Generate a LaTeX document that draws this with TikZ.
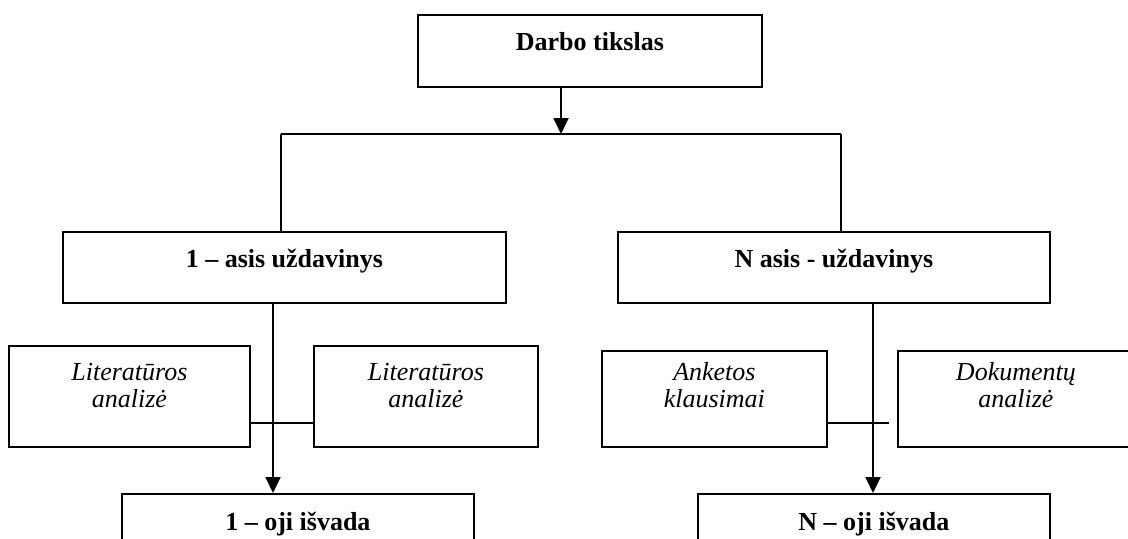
\documentclass[tikz,border=0pt]{standalone}
\usepackage{fontspec}
\setmainfont{Liberation Serif}
\usetikzlibrary{arrows.meta}
\begin{document}
\begin{tikzpicture}[x=0.5pt,y=-0.5pt,
  box/.style={draw, line width=0.9pt, inner sep=0pt, anchor=north west},
  bigbox/.style={box, font=\fontsize{13}{13.5}\selectfont\bfseries},
  smallbox/.style={box, font=\fontsize{13}{13.5}\selectfont\itshape, align=center},
  conn/.style={line width=0.9pt},
  arr/.style={conn, -{Triangle[length=8pt,width=7.5pt]}}]
\useasboundingbox (0,0) rectangle (1128,538);
\clip (0,0) rectangle (1128,538);
% boxes
\node[bigbox, minimum width=172pt, text height=18pt, text depth=18pt] (goal) at (417,14) {Darbo tikslas};
\node[bigbox, minimum width=221.5pt, text height=18pt, text depth=17.5pt] (t1) at (62,231) {1 – asis uždavinys};
\node[bigbox, minimum width=216pt, text height=18pt, text depth=17.5pt] (tN) at (617,231) {N asis - uždavinys};
\node[smallbox, text width=120.5pt, text height=17.5pt, text depth=33pt] (l1) at (8,345) {Literatūros\\analizė};
\node[smallbox, text width=112pt, text height=17.5pt, text depth=33pt] (l2) at (313,345) {Literatūros\\analizė};
\node[smallbox, text width=112.5pt, text height=15pt, text depth=33pt] (r1) at (601,350) {Anketos\\klausimai};
\node[smallbox, text width=118pt, text height=15pt, text depth=33pt] (r2) at (897,350) {Dokumentų\\analizė};
\node[bigbox, minimum width=176pt, text height=18.5pt, text depth=20pt] (c1) at (121,493) {1 – oji išvada};
\node[bigbox, minimum width=176pt, text height=18.5pt, text depth=20pt] (cN) at (697,493) {N – oji išvada};
% coordinates
\coordinate (hm) at (561,134);
\coordinate (jl) at (281,134);
\coordinate (jr) at (841,134);
\coordinate (a1) at (273,302);
\coordinate (aN) at (873,302);
\coordinate (cy) at (0,423);
\coordinate (rend) at (889,423);
% connectors
\draw[arr] (goal.south -| hm) -- (hm);
\draw[conn] (jl) -- (jr);
\draw[conn] (jl) -- (jl |- t1.north);
\draw[conn] (jr) -- (jr |- tN.north);
\draw[conn] (l1.east |- cy) -- (l2.west |- cy);
\draw[conn] (r1.east |- cy) -- (rend);
\draw[arr] (t1.south -| a1) -- (c1.north -| a1);
\draw[arr] (tN.south -| aN) -- (cN.north -| aN);
\end{tikzpicture}
\end{document}
